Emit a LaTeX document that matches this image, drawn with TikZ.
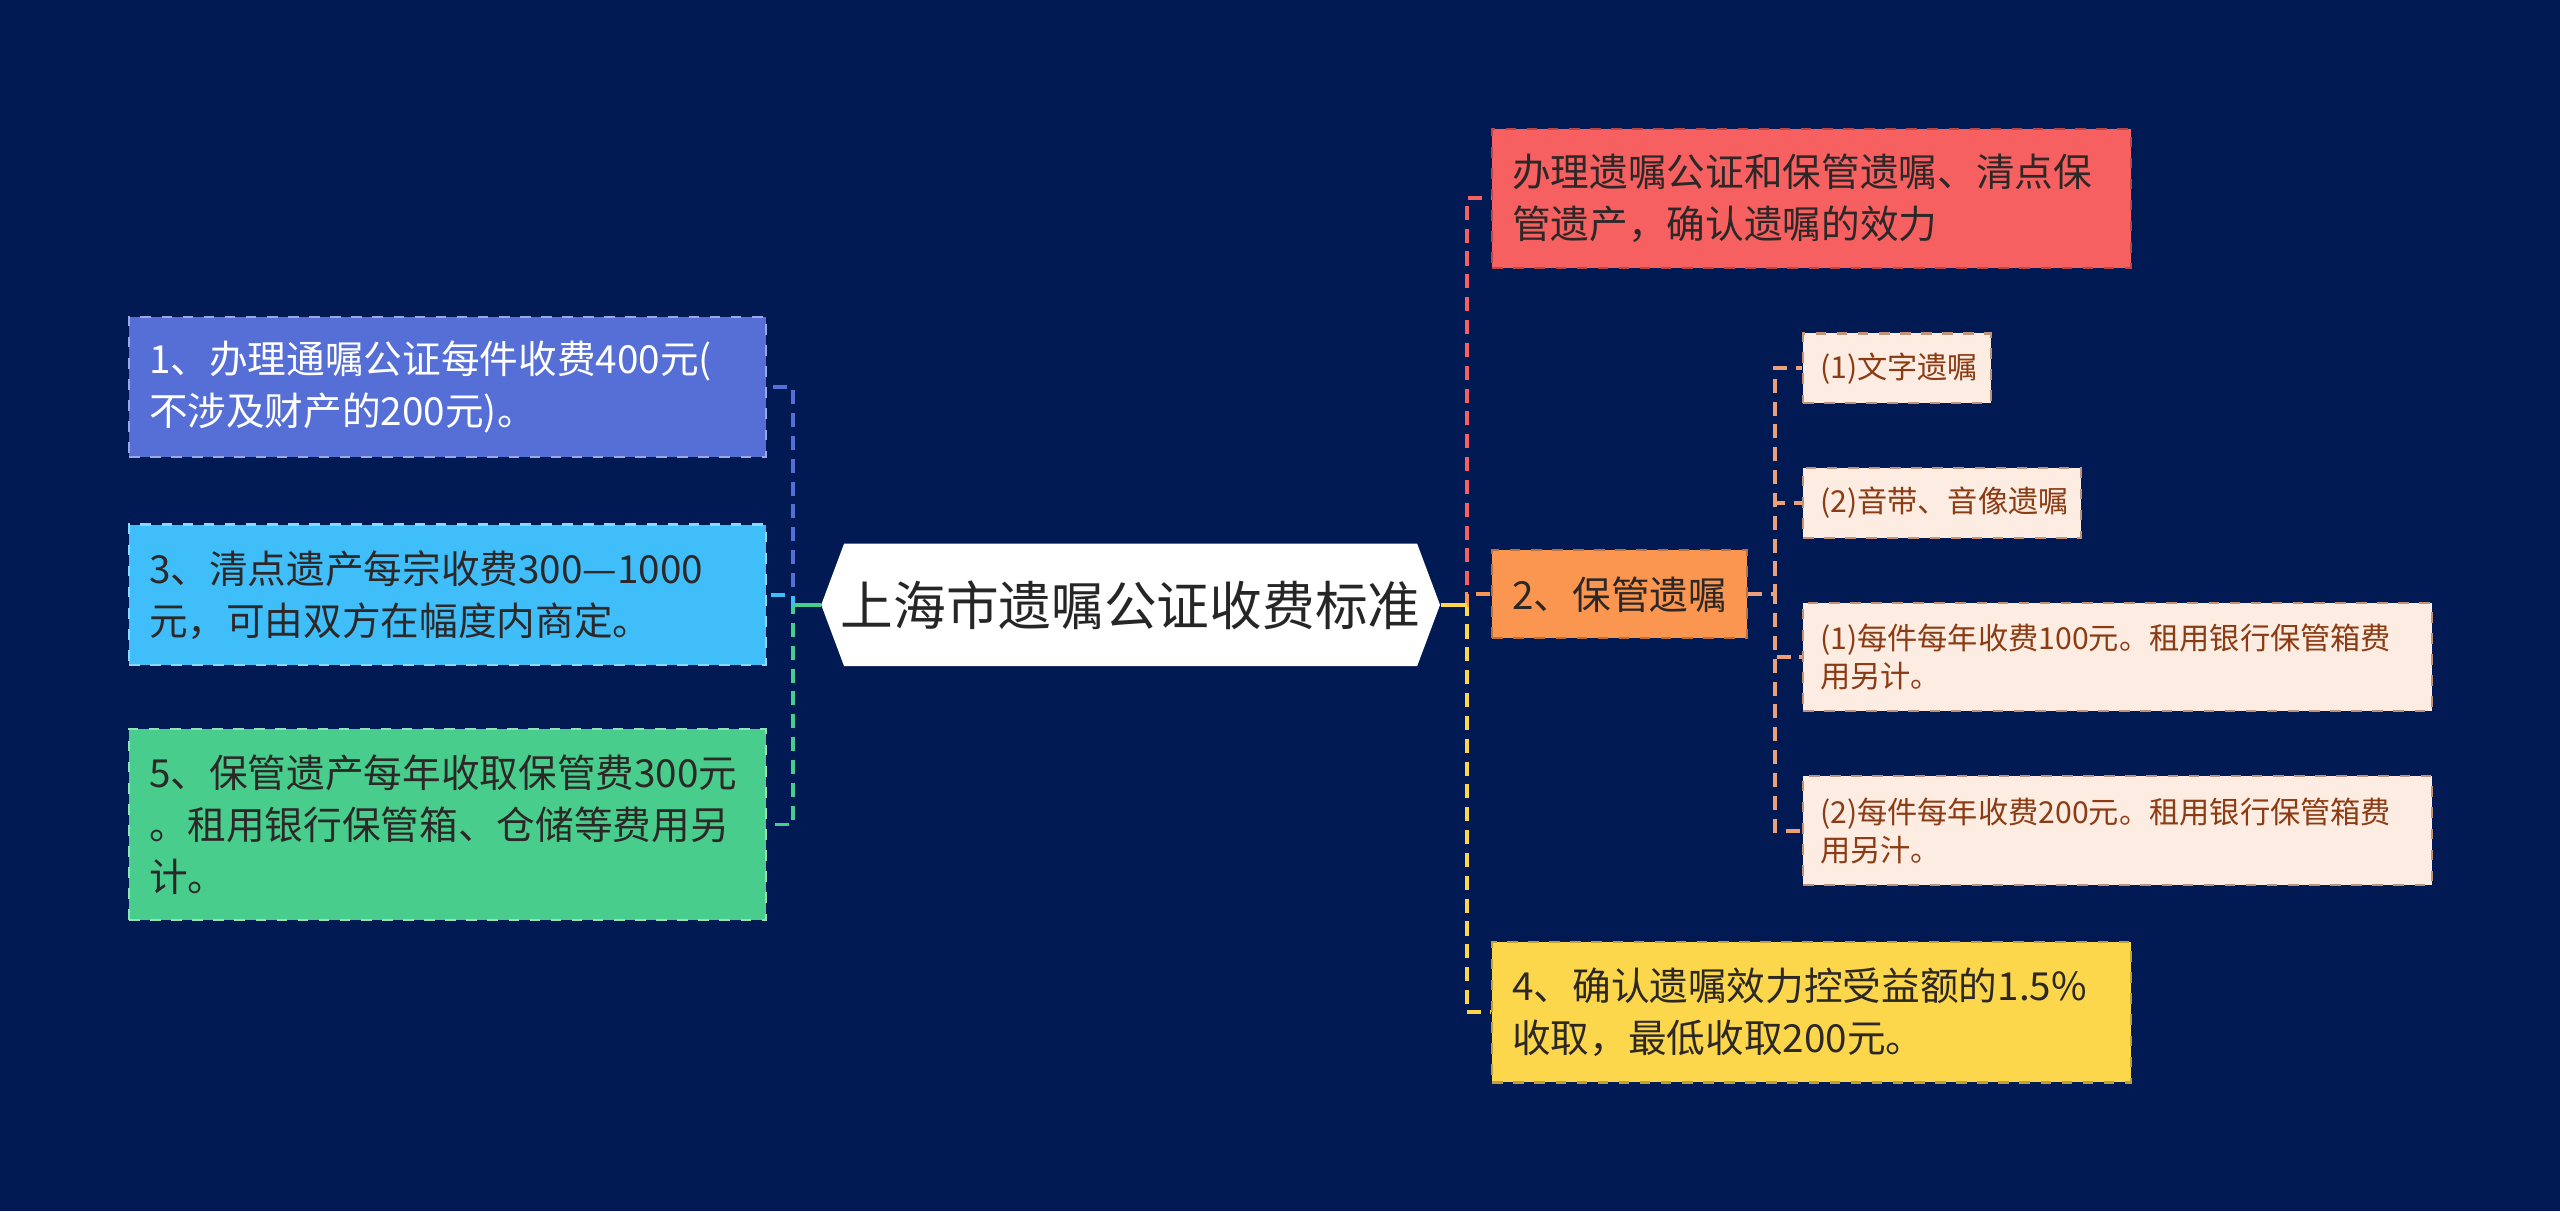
\documentclass[tikz,border=0pt]{standalone}
\usepackage{fontspec}
\usepackage{tikz}
\usetikzlibrary{positioning}
\newfontfamily\cjk{Noto Sans CJK SC}
\definecolor{bgnavy}{RGB}{2,26,84}
\definecolor{cblue}{RGB}{86,111,214}
\definecolor{ccyan}{RGB}{64,190,250}
\definecolor{cgreen}{RGB}{72,205,140}
\definecolor{cred}{RGB}{246,96,96}
\definecolor{corange}{RGB}{250,150,80}
\definecolor{cyellow}{RGB}{253,215,75}
\definecolor{cpeach}{RGB}{253,236,225}
\definecolor{csub}{RGB}{236,160,120}
\definecolor{subtext}{RGB}{140,60,20}
\definecolor{darktext}{RGB}{45,40,40}

\begin{document}
\begin{tikzpicture}[x=0.016327cm, y=-0.016327cm,
    box/.style={rectangle, font=\cjk\fontsize{11}{14.86}\selectfont, align=left, inner xsep=0.2cm, inner ysep=0pt, draw, dashed, line width=0.6pt, text=darktext},
    lbox/.style={box, text width=5.967cm, minimum height=1.404cm},
    rbox/.style={box, text width=5.984cm, minimum height=1.39cm},
    sub/.style={box, font=\cjk\fontsize{8.6}{10.7}\selectfont, inner xsep=0.17cm, fill=cpeach, draw=csub!60!gray, text=subtext, anchor=west},
    title/.style={rectangle, font=\cjk\fontsize{15}{18}\selectfont, text=black!85, minimum width=6.188cm, minimum height=1.2245cm, inner sep=0pt},
    link/.style={line width=1.1pt, dash pattern=on 4pt off 2.5pt}]

    \useasboundingbox (0,0) rectangle (1568,742);
    \fill[bgnavy] (0,0) rectangle (1568,742);

    % central topic
    \fill[white] (503,370.5) -- (517,333) -- (868,333) -- (882,370.5) -- (868,408) -- (517,408) -- cycle;
    \node[title] (root) at (692.5,370.5) {上海市遗嘱公证收费标准};

    % left side
    \node[lbox, fill=cblue, draw=cblue!60!white, text=white] (fee1) at (274,237) {1、办理通嘱公证每件收费400元(\\不涉及财产的200元)。};
    \node[lbox, fill=ccyan, draw=ccyan!60!white, below=0.653cm of fee1] (fee3) {3、清点遗产每宗收费300—1000\\元，可由双方在幅度内商定。};
    \node[lbox, fill=cgreen, draw=cgreen!60!white, minimum height=1.91cm, below=0.62cm of fee3] (fee5) {5、保管遗产每年收取保管费300元\\。租用银行保管箱、仓储等费用另\\计。};

    % right side
    \node[rbox, fill=cred, draw=cred!75!black] (scope) at (1109.5,121.5) {办理遗嘱公证和保管遗嘱、清点保\\管遗产，确认遗嘱的效力};
    \node[box, fill=corange, draw=corange!75!black, text width=2.147cm, minimum height=0.882cm] (keep) at (992,364) {2、保管遗嘱};
    \node[rbox, fill=cyellow, draw=cyellow!75!black, minimum height=1.404cm] (fee4) at (1109.5,620) {4、确认遗嘱效力控受益额的1.5\%\\收取，最低收取200元。};

    % sub topics of keep
    \node[sub, text width=1.538cm, minimum height=0.694cm] (kind1) at (1103.7,225.5) {(1)文字遗嘱};
    \node[sub, text width=2.436cm, minimum height=0.697cm, below=0.632cm of kind1.south west, anchor=north west] (kind2) {(2)音带、音像遗嘱};
    \node[sub, text width=5.946cm, minimum height=1.078cm, below=0.632cm of kind2.south west, anchor=north west] (cost1) {(1)每件每年收费100元。租用银行保管箱费\\用另计。};
    \node[sub, text width=5.946cm, minimum height=1.09cm, below=0.632cm of cost1.south west, anchor=north west] (cost2) {(2)每件每年收费200元。租用银行保管箱费\\用另汁。};

    % connectors
    \draw[link, cblue] (root.west) -- ++(-17,0) |- (fee1.east);
    \draw[link, cgreen] (root.west) -- ++(-17,0) |- (fee5.east);
    \draw[link, ccyan] (root.west) -- ++(-17,0) |- (fee3.east);
    \draw[cgreen, line width=1.1pt] (root.west) -- ++(-17,0);

    \draw[link, cred] (root.east) -- ++(16,0) |- (scope.west);
    \draw[link, cyellow] (root.east) -- ++(16,0) |- (fee4.west);
    \draw[link, corange] (root.east) -- ++(16,0) |- (keep.west);
    \draw[cyellow, line width=1.1pt] (root.east) -- ++(16,0);

    \draw[link, csub] (keep.east) -- ++(16.5,0) |- (kind1.west);
    \draw[link, csub] (keep.east) -- ++(16.5,0) |- (kind2.west);
    \draw[link, csub] (keep.east) -- ++(16.5,0) |- (cost1.west);
    \draw[link, csub] (keep.east) -- ++(16.5,0) |- (cost2.west);
\end{tikzpicture}
\end{document}
